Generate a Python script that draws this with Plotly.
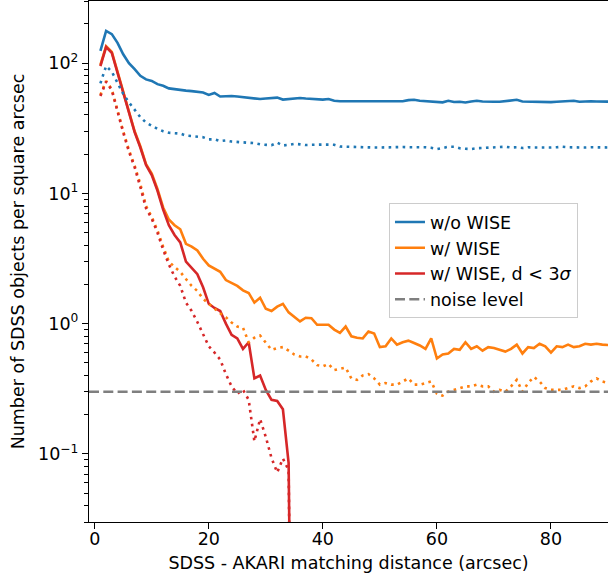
import plotly.graph_objects as go

# ---------------- data ----------------
dist = list(range(1, 92))  # arcsec, bin centres

wo_wise = [124, 177, 167, 143, 117, 100, 90, 80, 75, 73,
           69, 67, 64, 63, 62, 61.5, 61, 60, 59.5, 57,
           59, 55.4, 55.8, 56, 55.5, 55, 54.4, 54, 53, 53.5,
           54, 54.4, 52.5, 52.9, 53, 54, 53.5, 53, 53, 52.5,
           53, 51.5, 51, 51, 50.8, 51, 51, 50.7, 50.7, 50.7,
           51, 50.8, 50.7, 51, 52, 52.3, 51.5, 51, 50.5, 50.3,
           50, 51.4, 50.3, 50.5, 49.9, 50.8, 51.4, 50.8, 51, 50.6,
           50.5, 51, 51.5, 52.3, 50.8, 50.7, 50.5, 50.3, 50, 50.2,
           50.5, 50.8, 51.2, 51.4, 50.5, 51, 51, 50.8, 50.7, 50.6, 50.6]

wo_wise_rand = [70, 95, 86, 70, 58, 50, 43.5, 38.5, 35, 33,
                31.3, 30, 29.2, 29, 28.8, 27.8, 27.5, 27.2, 27, 26,
                26, 25.2, 25.5, 25, 24.9, 24.7, 24.5, 24.3, 23.8, 23.6,
                23.4, 24.5, 23.3, 23.6, 24, 23.8, 23.5, 23.6, 23.8, 23.7,
                23.7, 23.6, 22.9, 22.8, 22.8, 22.8, 22.7, 22.6, 22.5, 22.5,
                22.6, 22.8, 22.8, 22.7, 22.6, 22.7, 22.5, 22.6, 22.4, 21.9,
                22.3, 22.8, 22.8, 22.2, 22.0, 21.9, 22.2, 22.3, 22.5, 22.6,
                22.6, 22.8, 22.5, 22.6, 22.3, 22.6, 22.5, 22.4, 22.4, 22.5,
                22.6, 22.8, 22.6, 22.5, 22.6, 22.5, 22.6, 22.5, 22.5, 22.5, 22.5]

w_wise = [97, 135, 122, 86, 59, 41.5, 30, 23, 16.8, 14.2,
          10.8, 7.8, 6.3, 5.7, 5.3, 4.1, 3.9, 3.65, 3.15, 2.8,
          2.65, 2.5, 2.16, 2.05, 1.95, 1.8, 1.72, 1.45, 1.58, 1.3,
          1.25, 1.35, 1.42, 1.22, 1.12, 1.04, 1.11, 1.1, 0.98, 0.98,
          0.98, 0.9, 0.85, 0.95, 0.8, 0.78, 0.77, 0.87, 0.84, 0.66,
          0.67, 0.77, 0.69, 0.72, 0.74, 0.71, 0.68, 0.64, 0.77, 0.54,
          0.58, 0.59, 0.64, 0.63, 0.72, 0.64, 0.67, 0.62, 0.66, 0.65,
          0.63, 0.61, 0.64, 0.69, 0.59, 0.66, 0.65, 0.7, 0.67, 0.6,
          0.67, 0.66, 0.69, 0.66, 0.67, 0.7, 0.69, 0.7, 0.69, 0.68, 0.68]

w_wise_rand = [57, 73, 63, 43, 30, 21.5, 16.3, 11.8, 8.0, 6.6,
               5.2, 3.9, 3.0, 2.72, 2.5, 2.2, 1.95, 1.78, 1.55, 1.42,
               1.3, 1.2, 1.12, 1.02, 0.95, 0.93, 0.72, 0.78, 0.81, 0.72,
               0.63, 0.65, 0.66, 0.62, 0.58, 0.56, 0.56, 0.53, 0.48, 0.47,
               0.49, 0.44, 0.45, 0.46, 0.38, 0.37, 0.4, 0.41, 0.38, 0.34,
               0.35, 0.34, 0.34, 0.36, 0.38, 0.34, 0.34, 0.35, 0.36, 0.29,
               0.28, 0.3, 0.31, 0.32, 0.33, 0.33, 0.34, 0.33, 0.33, 0.3,
               0.31, 0.3, 0.33, 0.37, 0.3, 0.35, 0.39, 0.36, 0.32, 0.31,
               0.31, 0.31, 0.32, 0.33, 0.32, 0.33, 0.36, 0.38, 0.36, 0.35, 0.35]

# d < 3 sigma: counts drop to zero beyond ~34 arcsec (tiny value stands in for zero on the log axis)
w_wise_3s = [95, 133, 120, 84, 58, 40.8, 29.5, 22.5, 16.5, 13.8,
             10.5, 7.5, 5.7, 4.8, 4.2, 3.0, 2.7, 2.4, 1.9, 1.42,
             1.32, 1.25, 1.0, 0.82, 0.77, 0.64, 0.72, 0.38, 0.40, 0.31,
             0.26, 0.255, 0.22, 0.085, 1e-5]

w_wise_3s_rand = [56, 72, 62, 42, 29.4, 21, 15.9, 11.2, 7.7, 6.4,
                  5.0, 3.7, 2.85, 2.3, 1.95, 1.45, 1.25, 1.03, 0.83, 0.67,
                  0.6, 0.53, 0.41, 0.33, 0.29, 0.31, 0.26, 0.125, 0.185, 0.135,
                  0.093, 0.072, 0.092, 0.075, 1e-5]

noise_level = 0.3

x_range = [-1, 90]
y_range = [0.03, 300]
y_ticks = [0.1, 1, 10, 100]
y_ticktext = ["10<sup>\u22121</sup>", "10<sup>0</sup>", "10<sup>1</sup>", "10<sup>2</sup>"]
y_minor = [0.03, 0.04, 0.05, 0.06, 0.07, 0.08, 0.09,
           0.2, 0.3, 0.4, 0.5, 0.6, 0.7, 0.8, 0.9,
           2, 3, 4, 5, 6, 7, 8, 9,
           20, 30, 40, 50, 60, 70, 80, 90, 200, 300]
x_ticks = [0, 20, 40, 60, 80]

BLUE = "#1f77b4"
ORANGE = "#ff7f0e"
RED = "#d62728"
GRAY = "#7f7f7f"
LW = 2.6
DOT = "2.6px,4.4px"
FONT = "DejaVu Sans"
FS = 17.5

fig = go.Figure()

def add(x, y, color, dash, name, show):
    fig.add_trace(go.Scatter(x=x, y=y, mode="lines", name=name, showlegend=show,
                             line=dict(color=color, width=LW, dash=dash)))

add(dist, wo_wise, BLUE, "solid", "w/o WISE", True)
add(dist, w_wise, ORANGE, "solid", "w/ WISE", True)
add(dist[:len(w_wise_3s)], w_wise_3s, RED, "solid", "w/ WISE, d &lt; 3<i>\u03c3</i>", True)
add(dist, wo_wise_rand, BLUE, DOT, "w/o WISE (random)", False)
add(dist, w_wise_rand, ORANGE, DOT, "w/ WISE (random)", False)
add(dist[:len(w_wise_3s_rand)], w_wise_3s_rand, RED, DOT, "w/ WISE, d < 3 sigma (random)", False)
fig.add_trace(go.Scatter(x=x_range, y=[noise_level, noise_level], mode="lines",
                         name="noise level", line=dict(color=GRAY, width=LW, dash="10px,4.3px")))

fig.update_layout(
    width=608, height=579,
    margin=dict(l=89, r=0, t=1, b=57),
    paper_bgcolor="white", plot_bgcolor="white",
    font=dict(family=FONT, size=FS, color="black"),
    legend=dict(x=0.578, y=0.612, xanchor="left", yanchor="top",
                bgcolor="rgba(255,255,255,0.8)", bordercolor="#cccccc", borderwidth=1,
                font=dict(family=FONT, size=FS), itemwidth=30,
                traceorder="normal"),
)
fig.update_xaxes(range=x_range, tickvals=x_ticks, ticks="outside", ticklen=6, tickwidth=1.3,
                 tickcolor="black", showline=True, linecolor="black", linewidth=1.3, mirror=True,
                 showgrid=False, zeroline=False, ticklabelstandoff=-5,
                 title=dict(text="SDSS - AKARI matching distance (arcsec)", standoff=8,
                            font=dict(size=FS)))
fig.update_yaxes(type="log", range=[-1.5229, 2.4771], tickmode="array", tickvals=y_ticks,
                 ticktext=y_ticktext, ticks="outside", ticklen=6, tickwidth=1.3, tickcolor="black",
                 showline=True, linecolor="black", linewidth=1.3, mirror=True,
                 showgrid=False, zeroline=False,
                 minor=dict(tickmode="array", tickvals=y_minor, ticks="outside", ticklen=3.5,
                            tickwidth=1, tickcolor="black", showgrid=False),
                 title=dict(text="Number of SDSS objects per square arcsec", standoff=8,
                            font=dict(size=FS)))

fig.write_html("out.html", config={"displayModeBar": False},
               post_script="document.body.style.margin='0';document.body.style.padding='0';")
